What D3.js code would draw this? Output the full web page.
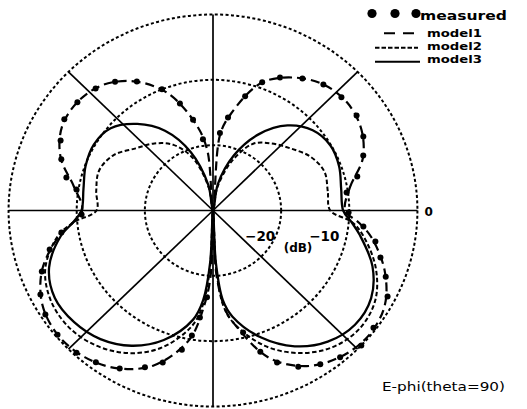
<!DOCTYPE html>
<html>
<head>
<meta charset="utf-8">
<script src="https://cdn.jsdelivr.net/npm/d3@7"></script>
<style>
  body { margin: 0; background: #fff; }
  svg { display: block; }
  text { font-family: "DejaVu Sans", sans-serif; fill: #000; }
</style>
</head>
<body>
<svg id="chart" width="527" height="409"></svg>
<script>
// Polar grid: dB rings and spokes
const ringLevels = [-20, -10, 0];
const spokeAngles = [0, 45, 90, 135, 180, 225, 270, 315];
const tickLabels = ["\u221220", "\u221210"];
const tickValues = [-20, -10];

// Measured E-phi pattern (angle in degrees, level in dB)
const measuredAngles = [8.0, 13.8, 20.9, 27.2, 34.6, 42.6, 50.0, 57.0, 64.2, 69.8, 74.9, 81.2, 85.1,
  97.7, 101.9, 106.5, 112.0, 119.5, 126.1, 132.7, 140.2, 147.4, 154.4, 160.6, 166.8, 170.9,
  181.8, 188.6, 194.0, 200.4, 206.9, 212.9, 219.8, 227.4, 233.5, 240.5, 247.4, 252.4, 257.9, 260.8, 263.3, 266.2,
  283.3, 287.8, 292.0, 297.6, 303.8, 309.7, 316.5, 322.7, 332.8, 338.2, 343.7, 348.7, 353.7, 359.1];
const measuredDb = [-10.2, -8.2, -6.4, -5.2, -4.4, -4.4, -4.8, -5.9, -7.4, -9.1, -11.9, -15.6, -18.1,
  -19.0, -15.8, -12.9, -10.0, -7.3, -5.6, -4.6, -4.1, -4.1, -5.2, -6.4, -7.9, -9.7,
  -10.7, -7.5, -5.3, -3.2, -1.6, -0.7, -0.3, -0.4, -1.1, -2.2, -4.0, -5.6, -8.2, -10.6, -13.5, -16.7,
  -10.8, -7.3, -4.9, -3.0, -1.7, -0.8, 0.0, -0.4, -1.2, -2.7, -4.4, -5.7, -7.8, -10.1];

// Model 1
const model1Angles = [0, 10, 20, 30, 40, 50, 60, 70, 80, 85, 90, 95, 100, 110, 120, 130, 140, 150, 160, 170,
  180, 190, 200, 210, 220, 230, 240, 250, 260, 265, 268, 270, 273, 277, 280, 290, 300, 310, 320, 330, 340, 350, 355];
const model1Db = [-10.6, -9.6, -6.6, -4.9, -4.3, -4.8, -6.5, -9.2, -15.0, -18.5, -30, -21, -17.0, -11.0, -7.2, -4.9, -4.1, -4.4, -6.2, -9.3,
  -10.8, -7.0, -3.3, -1.1, -0.3, -0.7, -2.1, -4.8, -9.9, -15.5, -20, -30, -20, -14.5, -12.5, -6.0, -2.5, -0.8, -0.2, -0.9, -3.2, -6.4, -8.5];

// Model 2
const model2Angles = [0, 10, 20, 30, 40, 50, 60, 70, 80, 90, 100, 110, 120, 130, 140, 150, 160, 170, 180, 185,
  190, 200, 210, 220, 230, 240, 250, 260, 264, 267, 270, 273, 276, 280, 290, 300, 310, 320, 330, 340, 350, 355];
const model2Db = [-12.8, -12.9, -12.6, -13.5, -15.2, -16.6, -18.2, -22, -26.5, -30, -26.5, -21.5, -18.4, -16.6, -15.2, -13.1, -12.2, -12.6, -12.9, -9.5,
  -6.8, -3.8, -2.5, -2.3, -3.1, -4.8, -7.6, -12.0, -15.3, -21, -30, -21, -15.3, -12.5, -8.0, -4.8, -2.7, -1.9, -2.5, -4.6, -7.6, -9.5];

// Model 3
const model3Angles = [0, 10, 20, 30, 40, 50, 60, 70, 80, 90, 100, 110, 120, 130, 140, 150, 160, 170, 180, 185,
  190, 200, 210, 220, 230, 240, 250, 260, 264, 267, 270, 273, 276, 280, 290, 300, 310, 320, 330, 340, 350, 355];
const model3Db = [-10.9, -10.9, -10.3, -10.1, -10.9, -13.0, -16.5, -21.0, -25.9, -30, -26, -20.5, -15.9, -12.7, -10.4, -9.8, -10.1, -10.7, -10.7, -9.4,
  -7.3, -4.4, -3.2, -3.4, -4.3, -6.1, -8.9, -13.0, -16.2, -22, -30, -22, -16.2, -13.5, -9.3, -6.0, -3.8, -2.8, -3.2, -5.1, -8.1, -9.6];

const legendLabels = ["measured", "model1", "model2", "model3"];
const caption = "E-phi(theta=90)";

const svg = d3.select("#chart");
const cx = 213, cy = 210.5, R = 196, sx = 1.043;

const rScale = d3.scaleLinear().domain([-30, 0]).range([0, R]).clamp(true);
const rad = d => d * Math.PI / 180;
const px = (a, v) => cx + sx * rScale(v) * Math.cos(rad(a));
const py = (a, v) => cy - rScale(v) * Math.sin(rad(a));

// dotted rings
svg.append("g").selectAll("ellipse").data(ringLevels).join("ellipse")
  .attr("cx", cx).attr("cy", cy)
  .attr("rx", d => sx * rScale(d)).attr("ry", d => rScale(d))
  .attr("fill", "none").attr("stroke", "#000")
  .attr("stroke-width", 2).attr("stroke-dasharray", "3,2.4");

// spokes
svg.append("g").selectAll("line").data(spokeAngles).join("line")
  .attr("x1", cx).attr("y1", cy)
  .attr("x2", d => px(d, 0)).attr("y2", d => py(d, 0))
  .attr("stroke", "#000").attr("stroke-width", 1.7);

const toPoints = (angles, vals) => angles.map((a, i) => [px(a, vals[i]), py(a, vals[i])]);
const loop = d3.line().curve(d3.curveCatmullRomClosed.alpha(0.5));

const curves = svg.append("g").attr("fill", "none").attr("stroke", "#000").attr("stroke-linejoin", "round");
curves.append("path").attr("d", loop(toPoints(model3Angles, model3Db)))
  .attr("stroke-width", 2.3);
curves.append("path").attr("d", loop(toPoints(model2Angles, model2Db)))
  .attr("stroke-width", 2).attr("stroke-dasharray", "4.5,2.5");
curves.append("path").attr("d", loop(toPoints(model1Angles, model1Db)))
  .attr("stroke-width", 2.2).attr("stroke-dasharray", "9,5");

// measured points
svg.append("g").selectAll("circle").data(measuredAngles).join("circle")
  .attr("cx", (d, i) => px(d, measuredDb[i]))
  .attr("cy", (d, i) => py(d, measuredDb[i]))
  .attr("r", 3).attr("fill", "#000");

// ring labels
const labelShift = [21, 25];
svg.append("g").selectAll("text").data(tickValues).join("text")
  .attr("x", (d, i) => cx + sx * rScale(d) - labelShift[i])
  .attr("y", cy + 30.5)
  .attr("text-anchor", "middle")
  .attr("font-size", 13.5).attr("font-weight", "bold")
  .text((d, i) => tickLabels[i]);
svg.append("text")
  .attr("x", cx + sx * rScale(0) + 7).attr("y", cy + 5.5)
  .attr("font-size", 12).attr("font-weight", "bold")
  .text("0");
svg.append("text")
  .attr("x", cx + 85).attr("y", cy + 41)
  .attr("text-anchor", "middle")
  .attr("font-size", 12).attr("font-weight", "bold")
  .text("(dB)");

// legend
const lg = svg.append("g");
[372, 395, 416].forEach(x => lg.append("circle").attr("cx", x).attr("cy", 13.5).attr("r", 4.6).attr("fill", "#000"));
lg.append("line").attr("x1", 384).attr("x2", 414).attr("y1", 33.3).attr("y2", 33.3)
  .attr("stroke", "#000").attr("stroke-width", 2).attr("stroke-dasharray", "11,8");
lg.append("line").attr("x1", 375).attr("x2", 418).attr("y1", 47.7).attr("y2", 47.7)
  .attr("stroke", "#000").attr("stroke-width", 2).attr("stroke-dasharray", "4.5,2");
lg.append("line").attr("x1", 375).attr("x2", 420).attr("y1", 61.7).attr("y2", 61.7)
  .attr("stroke", "#000").attr("stroke-width", 2);
const legendY = [20, 36.5, 49.5, 62.5];
const legendX = [420, 427, 427, 427];
const legendW = [87, 55, 55, 55];
const legendSize = [12, 11, 11, 11];
lg.selectAll("text").data(legendLabels).join("text")
  .attr("x", (d, i) => legendX[i]).attr("y", (d, i) => legendY[i])
  .attr("font-size", (d, i) => legendSize[i]).attr("font-weight", "bold")
  .attr("textLength", (d, i) => legendW[i]).attr("lengthAdjust", "spacingAndGlyphs")
  .text(d => d);

svg.append("text")
  .attr("x", 382).attr("y", 391)
  .attr("font-size", 13)
  .attr("textLength", 123).attr("lengthAdjust", "spacingAndGlyphs")
  .text(caption);
</script>
</body>
</html>
